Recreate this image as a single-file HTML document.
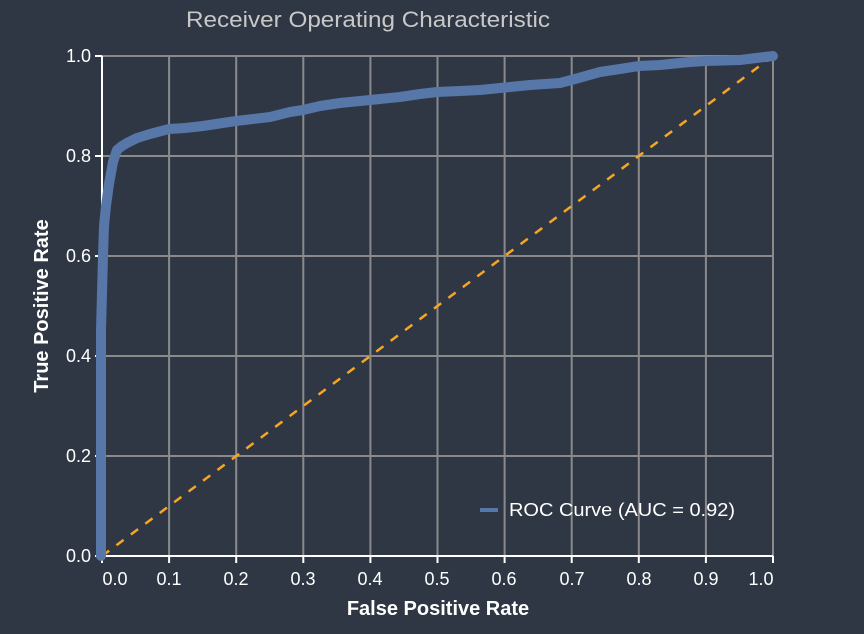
<!DOCTYPE html>
<html><head><style>
html,body{margin:0;padding:0;background:#2f3745;}
svg{display:block;font-family:"Liberation Sans",Arial,sans-serif;}
</style></head><body>
<svg width="864" height="634" viewBox="0 0 864 634">
<rect width="864" height="634" fill="#2f3745"/>
<text x="186" y="27" fill="#c8c8c8" font-size="22" textLength="364" lengthAdjust="spacingAndGlyphs">Receiver Operating Characteristic</text>
<g stroke="#8a8a8a" stroke-width="2">
<line x1="169.1" y1="56" x2="169.1" y2="556"/><line x1="236.2" y1="56" x2="236.2" y2="556"/>
<line x1="303.3" y1="56" x2="303.3" y2="556"/><line x1="370.4" y1="56" x2="370.4" y2="556"/>
<line x1="437.5" y1="56" x2="437.5" y2="556"/><line x1="504.6" y1="56" x2="504.6" y2="556"/>
<line x1="571.7" y1="56" x2="571.7" y2="556"/><line x1="638.8" y1="56" x2="638.8" y2="556"/>
<line x1="705.9" y1="56" x2="705.9" y2="556"/><line x1="773" y1="56" x2="773" y2="556"/>
<line x1="102" y1="56" x2="773" y2="56"/><line x1="102" y1="156" x2="773" y2="156"/>
<line x1="102" y1="256" x2="773" y2="256"/><line x1="102" y1="356" x2="773" y2="356"/>
<line x1="102" y1="456" x2="773" y2="456"/>
</g>
<g stroke="#fff" stroke-width="2">
<line x1="102" y1="56" x2="102" y2="557"/><line x1="101" y1="556" x2="773" y2="556"/>
<line x1="95" y1="56" x2="102" y2="56"/><line x1="95" y1="156" x2="102" y2="156"/><line x1="95" y1="256" x2="102" y2="256"/>
<line x1="95" y1="356" x2="102" y2="356"/><line x1="95" y1="456" x2="102" y2="456"/><line x1="95" y1="556" x2="102" y2="556"/>
<line x1="102" y1="556" x2="102" y2="563"/><line x1="169.1" y1="556" x2="169.1" y2="563"/><line x1="236.2" y1="556" x2="236.2" y2="563"/>
<line x1="303.3" y1="556" x2="303.3" y2="563"/><line x1="370.4" y1="556" x2="370.4" y2="563"/><line x1="437.5" y1="556" x2="437.5" y2="563"/>
<line x1="504.6" y1="556" x2="504.6" y2="563"/><line x1="571.7" y1="556" x2="571.7" y2="563"/><line x1="638.8" y1="556" x2="638.8" y2="563"/>
<line x1="705.9" y1="556" x2="705.9" y2="563"/><line x1="773" y1="556" x2="773" y2="563"/>
</g>
<g fill="#fff" font-size="18" text-anchor="end">
<text x="91" y="62">1.0</text><text x="91" y="162">0.8</text><text x="91" y="262">0.6</text>
<text x="91" y="362">0.4</text><text x="91" y="462">0.2</text><text x="91" y="562">0.0</text>
</g>
<g fill="#fff" font-size="18" text-anchor="middle">
<text x="115" y="585">0.0</text><text x="169" y="585">0.1</text><text x="236" y="585">0.2</text>
<text x="303" y="585">0.3</text><text x="370" y="585">0.4</text><text x="437" y="585">0.5</text>
<text x="504" y="585">0.6</text><text x="572" y="585">0.7</text><text x="639" y="585">0.8</text>
<text x="706" y="585">0.9</text><text x="761" y="585">1.0</text>
</g>
<text x="438" y="615" fill="#fff" font-size="20" font-weight="bold" text-anchor="middle">False Positive Rate</text>
<text transform="translate(48,306) rotate(-90)" fill="#fff" font-size="20" font-weight="bold" text-anchor="middle">True Positive Rate</text>
<line x1="102" y1="556" x2="773" y2="56" stroke="#f5a623" stroke-width="2.5" stroke-dasharray="9,9"/>
<polyline fill="none" stroke="#5677a8" stroke-width="10" stroke-linejoin="round" stroke-linecap="round"
points="101,556 101,330 103,256 104,226 106,206 109,184 113,162 117,150 122,146 127,143 137,138 150,134 169,129 185,128 203,126 236,121 270,117 290,112 303,110 320,106 340,103 370,100 400,97 420,94 437,92 460,91 480,90 500,88 530,85 560,83 575,79 600,72 620,69 639,66 660,65 690,62 706,61 740,60 773,56"/>
<line x1="480" y1="510" x2="498" y2="510" stroke="#5677a8" stroke-width="4"/>
<text x="509" y="516" fill="#fff" font-size="18" textLength="226" lengthAdjust="spacingAndGlyphs">ROC Curve (AUC = 0.92)</text>
</svg>
</body></html>
